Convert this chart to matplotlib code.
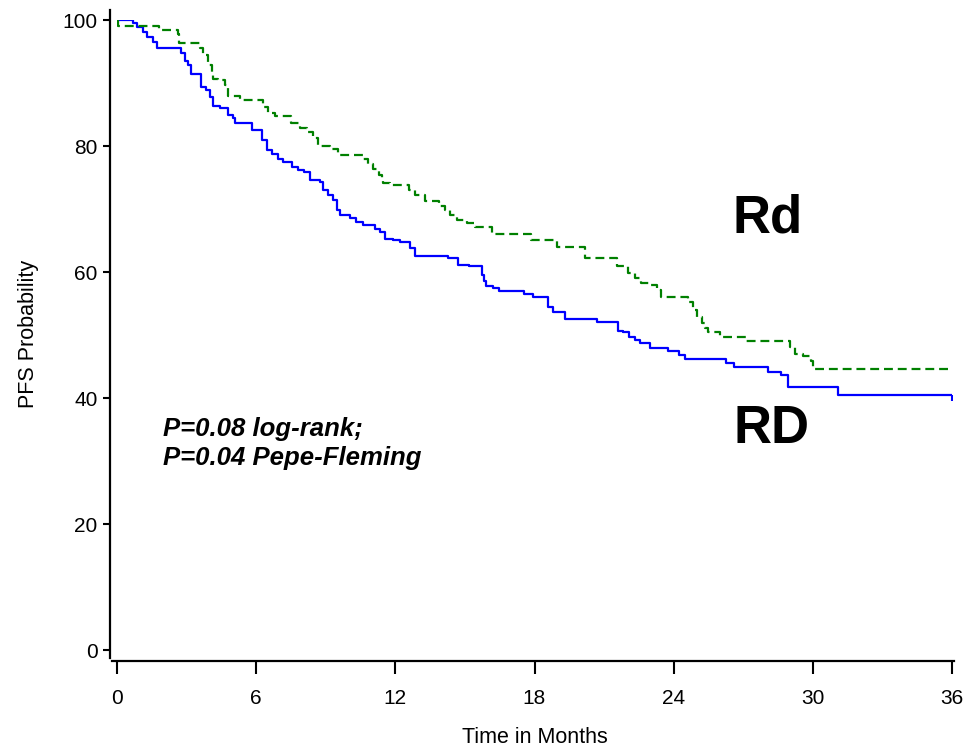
import matplotlib
matplotlib.use("Agg")
import matplotlib.pyplot as plt

plt.rcParams['font.family'] = ['Liberation Sans', 'DejaVu Sans']

# Kaplan-Meier step data (months, PFS probability %)
rd_upper_t = [0, 0.70, 0.88, 1.13, 1.28, 1.57, 1.71, 2.76, 2.93, 3.07, 3.18, 3.61,
              3.84, 4.01, 4.15, 4.44, 4.80, 4.99, 5.09, 5.81, 6.24, 6.45, 6.67, 6.95,
              7.17, 7.53, 7.81, 8.06, 8.32, 8.75, 8.89, 9.11, 9.32, 9.47, 9.61, 10.04,
              10.30, 10.62, 11.12, 11.34, 11.55, 11.91, 12.20, 12.63, 12.84, 14.28,
              14.71, 15.19, 15.75, 15.82, 15.89, 16.22, 16.47, 17.54, 17.94, 18.59,
              18.78, 19.31, 20.68, 21.61, 21.82, 22.08, 22.33, 22.54, 23.00, 23.76,
              24.22, 24.51, 26.24, 26.59, 28.05, 28.62, 28.91, 31.09, 36.0]
rd_upper_s = [100, 99.5, 98.9, 98.1, 97.3, 96.5, 95.6, 94.7, 93.5, 92.9, 91.5, 89.3,
              88.9, 87.8, 86.3, 86.0, 84.9, 84.4, 83.7, 82.5, 81.0, 79.4, 78.7, 77.9,
              77.4, 76.7, 76.2, 75.8, 74.6, 74.3, 73.0, 72.2, 71.4, 69.8, 69.0, 68.6,
              68.0, 67.5, 66.8, 66.4, 65.3, 65.1, 64.7, 63.8, 62.6, 62.2,
              61.1, 60.9, 59.5, 58.5, 57.8, 57.4, 57.0, 56.5, 56.1, 54.5,
              53.7, 52.5, 52.0, 50.7, 50.4, 49.7, 49.2, 48.7, 48.0, 47.4,
              46.9, 46.2, 45.5, 44.9, 44.2, 43.6, 41.7, 40.4, 40.4]

rd_lower_t = [0, 0.06, 1.83, 2.61, 2.67, 3.58, 3.72, 3.94, 4.08, 4.15, 4.37, 4.66,
              4.80, 5.30, 6.28, 6.52, 6.81, 7.50, 7.89, 8.18, 8.46, 8.68, 9.18, 9.51,
              10.59, 10.83, 11.05, 11.31, 11.41, 11.48, 11.77, 12.60, 12.84, 13.28,
              13.89, 14.14, 14.35, 14.64, 15.07, 15.43, 16.15, 17.87, 18.95, 20.17,
              21.54, 22.04, 22.33, 22.61, 22.97, 23.26, 23.45, 24.63, 24.84, 24.99,
              25.20, 25.34, 25.49, 25.99, 27.14, 29.01, 29.22, 29.58, 29.94, 30.01, 36.0]
rd_lower_s = [100, 99.1, 98.4, 97.7, 96.3, 95.6, 94.4, 92.9, 91.5, 90.6, 90.4, 89.7,
              88.0, 87.3, 86.2, 85.3, 84.8, 83.6, 82.9, 82.3, 81.3, 80.0, 79.6, 78.6,
              77.9, 77.2, 76.4, 75.4, 74.9, 74.1, 73.8, 73.0, 72.3, 71.3,
              70.4, 69.8, 69.0, 68.3, 67.7, 67.1, 66.0, 65.1, 64.0, 62.3,
              60.9, 59.9, 59.0, 58.2, 57.9, 57.1, 56.0, 55.3, 54.0, 52.9,
              51.9, 51.1, 50.4, 49.7, 49.1, 48.1, 47.0, 46.7, 45.8, 44.6, 44.6]

x_ticks = [0, 6, 12, 18, 24, 30, 36]
y_ticks = [0, 20, 40, 60, 80, 100]

fig = plt.figure(figsize=(9.64, 7.49), dpi=100)
ax = fig.add_axes([117 / 964, 99 / 749, 835 / 964, 630 / 749])

ax.plot(rd_upper_t, rd_upper_s, drawstyle='steps-post', color='#0000ff', lw=1.6)
ax.plot(rd_lower_t, rd_lower_s, drawstyle='steps-post', color='#008000', lw=1.6,
        linestyle=(0, (4, 2.2)))
ax.plot([rd_upper_t[-1]], [rd_upper_s[-1] - 0.4], marker='|', color='#0000ff',
        markersize=4, mew=1.5)

ax.set_xlim(0, 36)
ax.set_ylim(0, 100)
ax.set_xticks(x_ticks)
ax.set_yticks(y_ticks)

for side in ('top', 'right'):
    ax.spines[side].set_visible(False)
ax.spines['left'].set_position(('outward', 5))
ax.spines['bottom'].set_position(('outward', 8))
ax.spines['left'].set_linewidth(1.6)
ax.spines['bottom'].set_linewidth(1.6)
ax.spines['bottom'].set_bounds(-0.2, 36.1)
ax.spines['left'].set_bounds(-1.2, 101.6)

ax.tick_params(axis='y', direction='out', length=5, width=1.5, labelsize=15, pad=4)
ax.tick_params(axis='x', direction='out', length=9, width=1.5, labelsize=15, pad=11)

ax.set_xlabel('Time in Months', fontsize=15.5)
ax.set_ylabel('PFS Probability', fontsize=15.5)
ax.xaxis.set_label_coords(0.501, -0.122)
ax.yaxis.set_label_coords(-0.093, 0.5016)

ax.text(28.06, 66.3, 'Rd', fontsize=38, fontweight='bold', ha='center',
        va='baseline')
ax.text(28.2, 32.9, 'RD', fontsize=38, fontweight='bold', ha='center',
        va='baseline')
ax.text(1.98, 29.4, 'P=0.08 log-rank;\nP=0.04 Pepe-Fleming', fontsize=18.5,
        fontweight='bold', fontstyle='italic', ha='left', va='baseline',
        linespacing=1.25)

fig.savefig('out.png', dpi=100)
